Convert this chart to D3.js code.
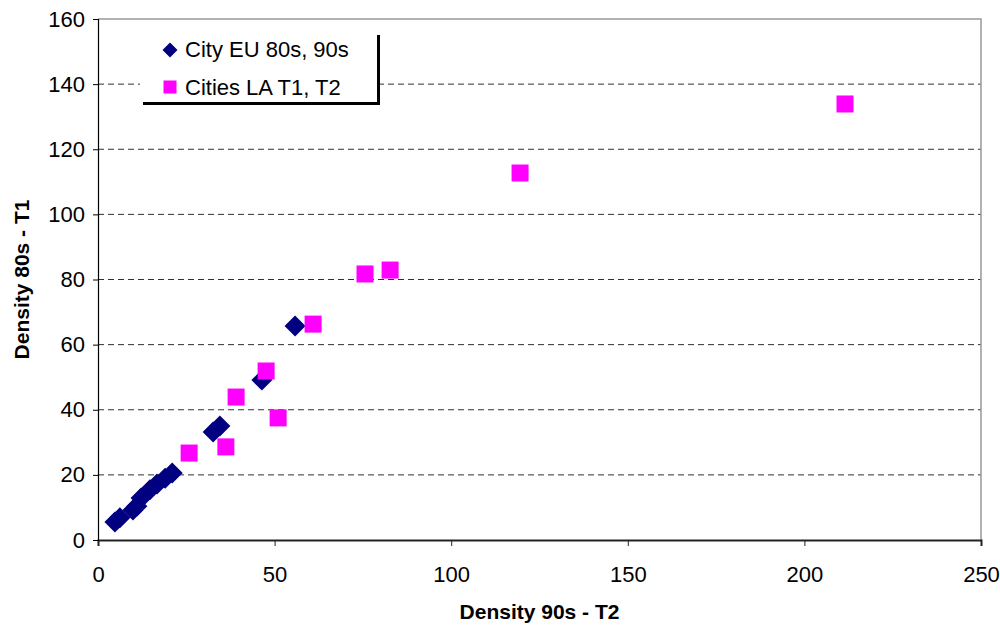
<!DOCTYPE html>
<html>
<head>
<meta charset="utf-8">
<script src="https://cdn.jsdelivr.net/npm/d3@7"></script>
<style>
  html, body { margin: 0; padding: 0; background: #fff; }
  svg { display: block; font-family: "Liberation Sans", Arial, sans-serif; }
</style>
</head>
<body>
<svg id="chart" width="1000" height="625"></svg>
<script>
// European cities: density in the 80s (y) vs. the 90s (x)
const euX = [4.8, 6.2, 9.9, 11.0, 12.2, 14.7, 16.7, 19.0, 21.0, 32.6, 34.5, 46.4, 55.8];
const euY = [5.5, 6.8, 9.2, 10.4, 12.9, 15.4, 17.2, 19.0, 20.6, 33.2, 35.0, 49.1, 65.7];

// Latin American cities: density at T1 (y) vs. T2 (x)
const laX = [25.8, 36.2, 39.1, 47.6, 51.0, 60.9, 75.6, 82.7, 119.5, 211.5];
const laY = [26.7, 28.6, 43.9, 51.9, 37.5, 66.3, 81.7, 82.9, 112.7, 133.9];

const xTicks = [0, 50, 100, 150, 200, 250];
const yTicks = [0, 20, 40, 60, 80, 100, 120, 140, 160];

const seriesNames = ["City EU 80s, 90s", "Cities LA T1, T2"];
const xTitle = "Density 90s - T2";
const yTitle = "Density 80s - T1";

const svg = d3.select("#chart");
const m = { left: 98, right: 981, top: 19, bottom: 540 };

const x = d3.scaleLinear().domain([0, 250]).range([m.left, m.right]);
const y = d3.scaleLinear().domain([0, 160]).range([m.bottom, m.top]);

// dashed horizontal grid
svg.append("g")
  .selectAll("line")
  .data(yTicks.filter(t => t > 0 && t < 160))
  .join("line")
  .attr("x1", m.left).attr("x2", m.right)
  .attr("y1", d => y(d)).attr("y2", d => y(d))
  .attr("stroke", "#303030")
  .attr("stroke-width", 1)
  .attr("stroke-dasharray", "6,4");

// plot frame: top and right edges
svg.append("path")
  .attr("d", `M${m.left},${m.top}H${m.right}V${m.bottom}`)
  .attr("fill", "none")
  .attr("stroke", "#999")
  .attr("stroke-width", 1.5);

// axes
const xAxis = svg.append("g")
  .attr("transform", `translate(0,${m.bottom})`)
  .call(d3.axisBottom(x).tickValues(xTicks).tickSize(6).tickPadding(20).tickFormat(d3.format("d")));
xAxis.select(".domain").attr("stroke", "#222").attr("stroke-width", 2);
xAxis.selectAll(".tick line").attr("stroke", "#222");
xAxis.selectAll("text").attr("font-size", 22).attr("fill", "#000")
  .attr("font-family", "'Liberation Sans', Arial, sans-serif");

const yAxis = svg.append("g")
  .attr("transform", `translate(${m.left},0)`)
  .call(d3.axisLeft(y).tickValues(yTicks).tickSize(5).tickPadding(8).tickFormat(d3.format("d")));
yAxis.select(".domain").attr("stroke", "#000").attr("stroke-width", 1.2);
yAxis.selectAll(".tick line").attr("stroke", "#000");
yAxis.selectAll("text").attr("font-size", 22).attr("fill", "#000")
  .attr("font-family", "'Liberation Sans', Arial, sans-serif");

// axis titles
svg.append("text")
  .attr("x", (m.left + m.right) / 2).attr("y", 619)
  .attr("text-anchor", "middle")
  .attr("font-size", 21).attr("font-weight", "bold")
  .text(xTitle);

svg.append("text")
  .attr("transform", `translate(29,${(m.top + m.bottom) / 2}) rotate(-90)`)
  .attr("text-anchor", "middle")
  .attr("font-size", 21).attr("font-weight", "bold")
  .text(yTitle);

// markers
const diamond = r => `M0,${-r}L${r},0L0,${r}L${-r},0Z`;
const euPts = euX.map((v, i) => [v, euY[i]]);
const laPts = laX.map((v, i) => [v, laY[i]]);

svg.append("g")
  .selectAll("path")
  .data(euPts)
  .join("path")
  .attr("transform", d => `translate(${x(d[0])},${y(d[1])})`)
  .attr("d", diamond(10.5))
  .attr("fill", "#000080");

const sq = 17;
svg.append("g")
  .selectAll("rect")
  .data(laPts)
  .join("rect")
  .attr("x", d => x(d[0]) - sq / 2)
  .attr("y", d => y(d[1]) - sq / 2)
  .attr("width", sq).attr("height", sq)
  .attr("fill", "#FF00FF");

// legend with drop shadow
const lg = svg.append("g");
lg.append("rect").attr("x", 143).attr("y", 35).attr("width", 237).attr("height", 70).attr("fill", "#000");
lg.append("rect").attr("x", 140).attr("y", 32).attr("width", 237).attr("height", 70).attr("fill", "#fff");

lg.append("path").attr("transform", "translate(170,50)").attr("d", diamond(7.5)).attr("fill", "#000080");
lg.append("rect").attr("x", 163.5).attr("y", 80.5).attr("width", 13).attr("height", 13).attr("fill", "#FF00FF");

lg.selectAll("text.lab")
  .data(seriesNames)
  .join("text")
  .attr("class", "lab")
  .attr("x", 185)
  .attr("y", (d, i) => 57 + i * 38)
  .attr("font-size", 22)
  .attr("fill", "#000")
  .text(d => d);
</script>
</body>
</html>
